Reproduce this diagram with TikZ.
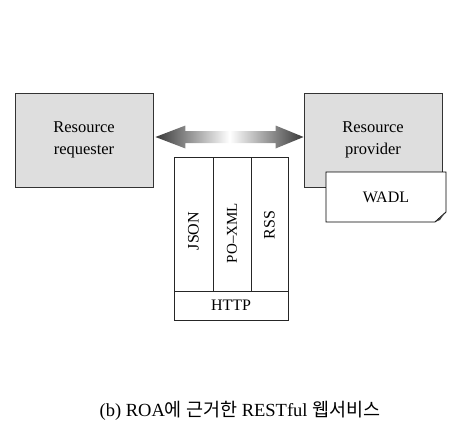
\documentclass[tikz,border=0pt]{standalone}
\usepackage{fontspec}
\setmainfont{Liberation Serif}
\newfontfamily\kr{Noto Sans CJK KR}
\pgfdeclarehorizontalshading{arrowshade}{100bp}{color(0bp)=(black!78); color(25bp)=(black!78); color(50bp)=(white); color(75bp)=(black!78); color(100bp)=(black!78)}
\tikzset{
  box/.style={draw=black!80, line width=0.9pt, fill=black!13, minimum width=138pt, minimum height=94pt, align=center, inner sep=0pt, font=\fontsize{16.5}{22}\selectfont},
  cell/.style={draw=black!85, line width=0.9pt, fill=white, inner sep=0pt, font=\fontsize{16}{18}\selectfont},
  lbl/.style={inner sep=0pt, font=\fontsize{16}{18}\selectfont}
}
\begin{document}
\begin{tikzpicture}[x=1pt,y=1pt]
\useasboundingbox (0,0) rectangle (474,-434);
% main boxes
\node[box] (req) at (84,-140) {Resource\\requester};
\node[box] (prov) at (373,-140) {Resource\\provider};
% WADL document
\coordinate (wnw) at (326,-172);
\coordinate (wne) at (446,-172);
\coordinate (wse) at (446,-222);
\coordinate (wsw) at (326,-222);
\draw[line width=0.9pt, fill=white] (wnw) -- (wne) -- ([yshift=10pt]wse) -- ([xshift=-11pt]wse) -- (wsw) -- cycle;
\fill[black!75] ([yshift=10pt]wse) -- ([xshift=-11pt]wse) -- ([xshift=-6pt,yshift=2pt]wse) -- ([xshift=-4pt,yshift=5pt]wse) -- cycle;
\node[lbl] (wadl) at (386,-197) {WADL};
% double arrow with gradient
\coordinate (tl) at ([xshift=2pt]req.east |- 0,-137);
\coordinate (tr) at (prov.west |- 0,-137);
\shade[shading=arrowshade]
  (tl) -- ([xshift=30pt,yshift=11.5pt]tl) -- ([xshift=30pt,yshift=6pt]tl)
  -- ([xshift=-28pt,yshift=6pt]tr) -- ([xshift=-28pt,yshift=11.5pt]tr) -- (tr)
  -- ([xshift=-28pt,yshift=-11.5pt]tr) -- ([xshift=-28pt,yshift=-6pt]tr)
  -- ([xshift=30pt,yshift=-6pt]tl) -- ([xshift=30pt,yshift=-11.5pt]tl) -- cycle;
% protocol stack
\node[cell, minimum width=39pt, minimum height=134pt] (json) at (193.5,-224) {};
\node[cell, minimum width=38pt, minimum height=134pt] (poxml) at (232,-224) {};
\node[cell, minimum width=37pt, minimum height=134pt] (rss) at (269.5,-224) {};
\node[cell, minimum width=114pt, minimum height=29pt] (http) at (231,-305.5) {HTTP};
\node[lbl, rotate=90] at ([yshift=-7pt]json.center) {JSON};
\node[lbl, rotate=90, font=\fontsize{15}{16}\selectfont] at ([yshift=-9pt]poxml.center) {PO–XML};
\node[lbl, rotate=90] at ([yshift=-1pt]rss.center) {RSS};
% caption
\node[lbl, font=\fontsize{18.5}{20}\selectfont] (cap) at (240,-411) {(b) ROA{\kr 에 근거한} RESTful {\kr 웹서비스}};
\end{tikzpicture}
\end{document}
